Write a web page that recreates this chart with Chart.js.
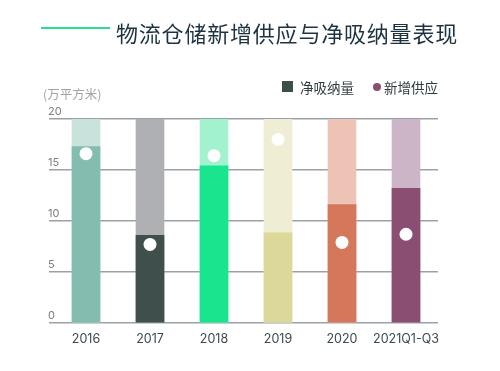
<!DOCTYPE html>
<html>
<head>
<meta charset="utf-8">
<script src="https://cdn.jsdelivr.net/npm/chart.js@4/dist/chart.umd.min.js"></script>
<style>
    body { margin: 0; background: #fff; }
    #wrap { position: relative; width: 500px; height: 371px; font-family: "Noto Sans CJK SC", sans-serif; }
    #wrap canvas { position: absolute; left: 0; top: 0; }
    .rule { position: absolute; left: 41px; top: 27px; width: 69px; height: 2px; background: #2fdc8f; }
    .title { position: absolute; left: 116px; top: 17px; font-size: 22px; line-height: 30px; letter-spacing: 0.8px; color: #1d3340; white-space: nowrap; }
    .unit { position: absolute; left: 43px; top: 85px; font-size: 12.5px; line-height: 18px; color: #a3a3a3; white-space: nowrap; }
    .legend { position: absolute; top: 78px; font-size: 13.5px; line-height: 18px; color: #2f3b3d; white-space: nowrap; }
    .legend i { position: absolute; display: block; }
</style>
</head>
<body>
<div id="wrap">
    <canvas id="chart"></canvas>
    <div class="rule"></div>
    <div class="title">物流仓储新增供应与净吸纳量表现</div>
    <div class="unit">(万平方米)</div>
    <div class="legend" style="left:300px"><i style="left:-18px;top:3px;width:11px;height:11px;background:#3d4d4a"></i>净吸纳量</div>
    <div class="legend" style="left:384px"><i style="left:-11px;top:5px;width:8px;height:8px;border-radius:50%;background:#8a4e72"></i>新增供应</div>
</div>
<script>
//---------
//Data
//---------

//Categories (years)
const categories = ["2016", "2017", "2018", "2019", "2020", "2021Q1-Q3"];

//Net absorption, 10k sq.m
const netAbsorption = [17.3, 8.6, 15.4, 8.85, 11.6, 13.2];

//New supply, 10k sq.m
const newSupply = [16.6, 7.7, 16.4, 18.0, 7.9, 8.7];

//Full-height backdrop bars
const backdrop = [20, 20, 20, 20, 20, 20];

//Y axis ticks
const yTicks = [0, 5, 10, 15, 20];

//Colours per category: strong and light
const strongColors = ["#84bcb0", "#3f4f4c", "#19e58f", "#dcd89a", "#d4775a", "#8a4e72"];
const lightColors = ["#c9e2dc", "#aeb0b3", "#a3f2cf", "#efedd3", "#edc3b5", "#cbb5c6"];

//-----------
//Chart
//-----------

const ctx = document.getElementById("chart").getContext("2d");
new Chart(ctx, {
    type: "bar",
    data: {
        labels: categories,
        datasets: [
            {
                type: "line",
                label: "新增供应",
                data: newSupply,
                showLine: false,
                pointRadius: 6.5,
                pointBackgroundColor: "#ffffff",
                pointBorderWidth: 0,
                order: 0
            },
            {
                label: "净吸纳量",
                data: netAbsorption,
                backgroundColor: strongColors,
                grouped: false,
                barThickness: 28,
                order: 1
            },
            {
                label: "backdrop",
                data: backdrop,
                backgroundColor: lightColors,
                grouped: false,
                barThickness: 28,
                order: 2
            }
        ]
    },
    options: {
        responsive: true,
        maintainAspectRatio: false,
        animation: false,
        layout: { padding: { left: 49, right: 62, top: 119, bottom: 18 } },
        plugins: { legend: { display: false }, tooltip: { enabled: false } },
        scales: {
            x: {
                grid: { display: false, drawTicks: false },
                border: { display: false },
                ticks: {
                    padding: 9,
                    maxRotation: 0,
                    minRotation: 0,
                    autoSkip: false,
                    color: "#3a4a50",
                    font: { family: "Inter, 'Noto Sans CJK SC'", size: 12.5 }
                },
                afterFit: s => { s.height = 30; }
            },
            y: {
                min: 0,
                max: 20,
                afterBuildTicks: s => { s.ticks = yTicks.map(v => ({ value: v })); },
                grid: { color: "#9aa1a8", lineWidth: 1.5, drawTicks: true, tickLength: 5 },
                border: { display: false },
                ticks: {
                    mirror: true,
                    padding: -6,
                    labelOffset: -7,
                    color: "#7c7c7c",
                    font: { family: "Inter, 'Noto Sans CJK SC'", size: 11 }
                },
                afterFit: s => { s.width = 5; }
            }
        }
    }
});
</script>
</body>
</html>
